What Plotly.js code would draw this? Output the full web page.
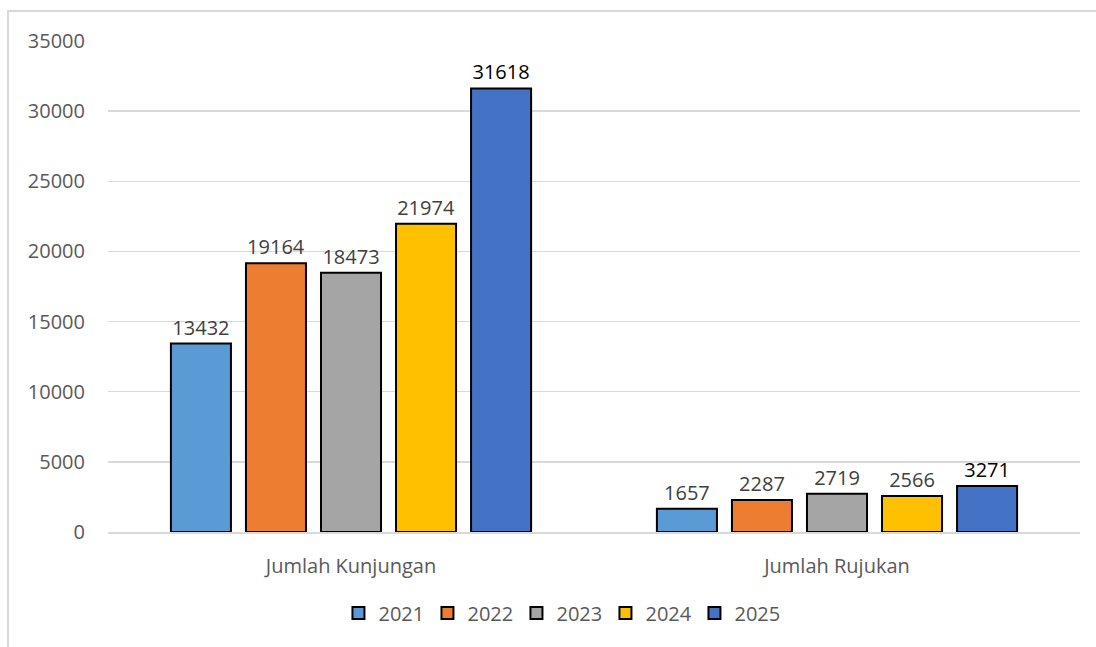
<!DOCTYPE html>
<html>
<head>
<meta charset="utf-8">
<script src="https://cdn.plot.ly/plotly-3.0.1.min.js"></script>
<style>html,body{margin:0;padding:0;background:#fff;}#chart{width:1096px;height:647px;}</style>
</head>
<body>
<div id="chart"></div>
<script>
const categories = ["Jumlah Kunjungan", "Jumlah Rujukan"];
const years = ["2021", "2022", "2023", "2024", "2025"];
const v2021 = [13432, 1657];
const v2022 = [19164, 2287];
const v2023 = [18473, 2719];
const v2024 = [21974, 2566];
const v2025 = [31618, 3271];
const yTicks = [0, 5000, 10000, 15000, 20000, 25000, 30000, 35000];

const seriesValues = [v2021, v2022, v2023, v2024, v2025];
const colors = ["#5B9BD5", "#ED7D31", "#A5A5A5", "#FFC000", "#4472C4"];
const labelColors = ["#404040", "#404040", "#404040", "#404040", "#000000"];

const traces = years.map((y, i) => ({
  type: "bar",
  name: y,
  x: categories,
  y: seriesValues[i],
  text: seriesValues[i].map(String),
  textposition: "outside",
  cliponaxis: false,
  textfont: {family: "Open Sans, Calibri, sans-serif", size: 20, color: labelColors[i]},
  marker: {color: colors[i], line: {color: "#000000", width: 2}},
  hoverinfo: "none"
}));

const layout = {
  width: 1096, height: 647,
  margin: {l: 108, r: 16, t: 41, b: 115},
  paper_bgcolor: "#ffffff",
  plot_bgcolor: "#ffffff",
  font: {family: "Open Sans, Calibri, sans-serif", color: "#595959", size: 20},
  barmode: "group",
  bargap: 0.228,
  bargroupgap: 0.2,
  showlegend: true,
  legend: {orientation: "h", x: 0.466, xanchor: "center", y: -0.165, yanchor: "middle",
           font: {size: 20, color: "#595959"}, traceorder: "normal", itemwidth: 30,
           entrywidth: 44, entrywidthmode: "pixels"},
  xaxis: {showgrid: false, showline: true, linecolor: "#d9d9d9", linewidth: 1.5,
          ticks: "", tickfont: {size: 20, color: "#595959"}, ticklabelstandoff: 15},
  yaxis: {range: [0, 35000], tickvals: yTicks, ticktext: yTicks.map(String),
          showgrid: true, gridcolor: "#d9d9d9", gridwidth: 1.5, zeroline: false,
          showline: false, ticks: "", tickfont: {size: 20, color: "#595959"},
          ticklabelstandoff: 22},
  shapes: [{type: "rect", xref: "paper", yref: "paper",
            x0: -0.1029, x1: 1.05, y0: -0.3, y1: 1.0611,
            line: {color: "#d9d9d9", width: 2}, layer: "below"}]
};

Plotly.newPlot("chart", traces, layout, {staticPlot: true});
</script>
</body>
</html>
